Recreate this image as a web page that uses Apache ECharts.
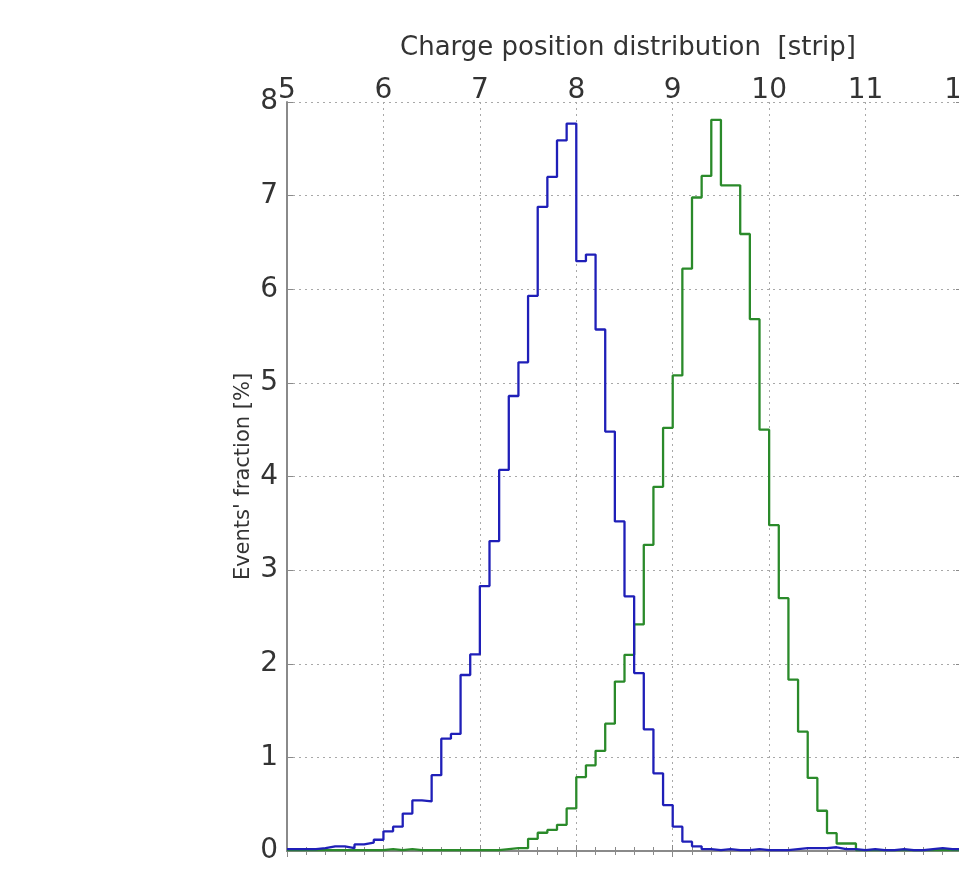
<!DOCTYPE html>
<html>
<head>
<meta charset="utf-8">
<script src="https://cdn.jsdelivr.net/npm/echarts@6/dist/echarts.min.js"></script>
<style>
html,body{margin:0;padding:0;background:#fff;}
#chart{width:959px;height:872px;}
</style>
</head>
<body>
<div id="chart"></div>
<script>
// Histogram bins: 0.1 strip wide, starting at 5.0
const binStart = 5.0;
const binWidth = 0.1;
const xTicks = [5, 6, 7, 8, 9, 10, 11, 12];
const yTicks = [0, 1, 2, 3, 4, 5, 6, 7, 8];

const blueValues = [
  0.02, 0.02, 0.02, 0.03, 0.05, 0.05, 0.03,             // 5.0 - 5.6
  0.07, 0.09, 0.12, 0.21, 0.26, 0.40, 0.54, 0.53,       // 5.7 - 6.4
  0.81, 1.20, 1.25, 1.88, 2.10, 2.83, 3.31, 4.07,       // 6.5 - 7.2
  4.86, 5.22, 5.93, 6.88, 7.20, 7.59, 7.77, 6.30,       // 7.3 - 8.0
  6.37, 5.57, 4.48, 3.52, 2.72, 1.90, 1.30, 0.83,       // 8.1 - 8.8
  0.49, 0.26, 0.10, 0.05,                               // 8.9 - 9.2
  0.02, 0.01, 0.02, 0.01, 0.01, 0.02, 0.01, 0.01, 0.01, // 9.3 - 10.1
  0.02, 0.03, 0.03, 0.03, 0.04, 0.02, 0.02, 0.01, 0.02, // 10.2 - 11.0
  0.01, 0.01, 0.02, 0.01, 0.01, 0.02, 0.03, 0.02, 0.02  // 11.1 - 11.9
];

const greenValues = [
  0.01, 0.01, 0.01, 0.01, 0.01, 0.01, 0.01, 0.01, 0.01, 0.01, // 5.0 - 5.9
  0.02, 0.01, 0.02, 0.01, 0.01, 0.01, 0.01, 0.01, 0.01, 0.01, // 6.0 - 6.9
  0.01, 0.01, 0.02, 0.03, 0.03,                               // 7.0 - 7.4
  0.13, 0.195, 0.225, 0.28, 0.455, 0.79, 0.915, 1.07,         // 7.5 - 8.2
  1.36, 1.81, 2.095, 2.42, 3.27, 3.89, 4.52, 5.08,            // 8.3 - 9.0
  6.22, 6.98, 7.21, 7.81, 7.11, 7.11, 6.59, 5.68,             // 9.1 - 9.8
  4.50, 3.48, 2.70, 1.83, 1.275, 0.78, 0.43, 0.19,            // 9.9 - 10.6
  0.08, 0.08,                                                 // 10.7 - 10.8
  0.01, 0.01, 0.01, 0.01, 0.01, 0.01, 0.01, 0.01, 0.01, 0.01, 0.01 // 10.9 - 11.9
];

function toSteps(vals) {
  const d = vals.map((v, i) => [+(binStart + i * binWidth).toFixed(1), v]);
  d.push([+(binStart + vals.length * binWidth).toFixed(1), vals[vals.length - 1]]);
  return d;
}

const FONT = 'DejaVu Sans, Verdana, sans-serif';
const axisColor = '#8a8a8a';
const labelColor = '#333';
const xMin = xTicks[0], xMax = xTicks[xTicks.length - 1];
const yMin = yTicks[0], yMax = yTicks[yTicks.length - 1];

const chart = echarts.init(document.getElementById('chart'), null, {renderer: 'canvas'});
chart.setOption({
  backgroundColor: '#fff',
  animation: false,
  title: {
    text: 'Charge position distribution  [strip]',
    left: 623, top: 30, textAlign: 'center',
    textStyle: {fontFamily: FONT, fontSize: 26, fontWeight: 'normal', color: '#333'}
  },
  grid: {left: 287, top: 102, width: 675, height: 749, containLabel: false, outerBoundsMode: 'none'},
  xAxis: [
    {
      type: 'value', position: 'top', min: xMin, max: xMax, interval: 1,
      axisLine: {show: true, lineStyle: {color: axisColor, width: 2}},
      axisTick: {show: true, inside: true, length: 6, lineStyle: {color: axisColor}},
      minorTick: {show: true, splitNumber: 5, length: 4, lineStyle: {color: axisColor}},
      axisLabel: {fontSize: 28, margin: -3, color: labelColor, fontFamily: FONT, showMaxLabel: true, showMinLabel: true, hideOverlap: false},
      splitLine: {show: true, lineStyle: {type: [2, 4], color: '#a8a8a8', width: 1}}
    },
    {
      type: 'value', position: 'bottom', min: xMin, max: xMax, interval: 1,
      axisLine: {show: true, lineStyle: {color: axisColor, width: 2}},
      axisTick: {show: true, inside: true, length: 6, lineStyle: {color: axisColor}},
      minorTick: {show: true, splitNumber: 5, length: 4, lineStyle: {color: axisColor}},
      axisLabel: {show: false},
      splitLine: {show: false}
    }
  ],
  yAxis: [
    {
      type: 'value', position: 'left', min: yMin, max: yMax, interval: 1,
      name: "Events' fraction [%]", nameLocation: 'middle', nameGap: 33, nameRotate: 90,
      nameMoveOverlap: false,
      nameTextStyle: {fontSize: 21, color: labelColor, fontFamily: FONT},
      axisLine: {show: true, lineStyle: {color: axisColor, width: 2}},
      axisTick: {show: true, inside: true, length: 6, lineStyle: {color: axisColor}},
      axisLabel: {fontSize: 28, margin: 9, color: labelColor, fontFamily: FONT, hideOverlap: false},
      splitLine: {show: true, lineStyle: {type: [2, 4], color: '#a8a8a8', width: 1}}
    },
    {
      type: 'value', position: 'right', min: yMin, max: yMax, interval: 1,
      axisLine: {show: true, lineStyle: {color: axisColor, width: 2}},
      axisTick: {show: true, inside: true, length: 6, lineStyle: {color: axisColor}},
      axisLabel: {show: false},
      splitLine: {show: false}
    }
  ],
  series: [
    {
      name: 'blue', type: 'line', step: 'end', xAxisIndex: 0, yAxisIndex: 0,
      showSymbol: false, symbol: 'none',
      lineStyle: {color: '#1f1fb8', width: 2.3},
      data: toSteps(blueValues), z: 3
    },
    {
      name: 'green', type: 'line', step: 'end', xAxisIndex: 0, yAxisIndex: 0,
      showSymbol: false, symbol: 'none',
      lineStyle: {color: '#2a8a2a', width: 2.3},
      data: toSteps(greenValues), z: 2
    }
  ]
});
</script>
</body>
</html>
